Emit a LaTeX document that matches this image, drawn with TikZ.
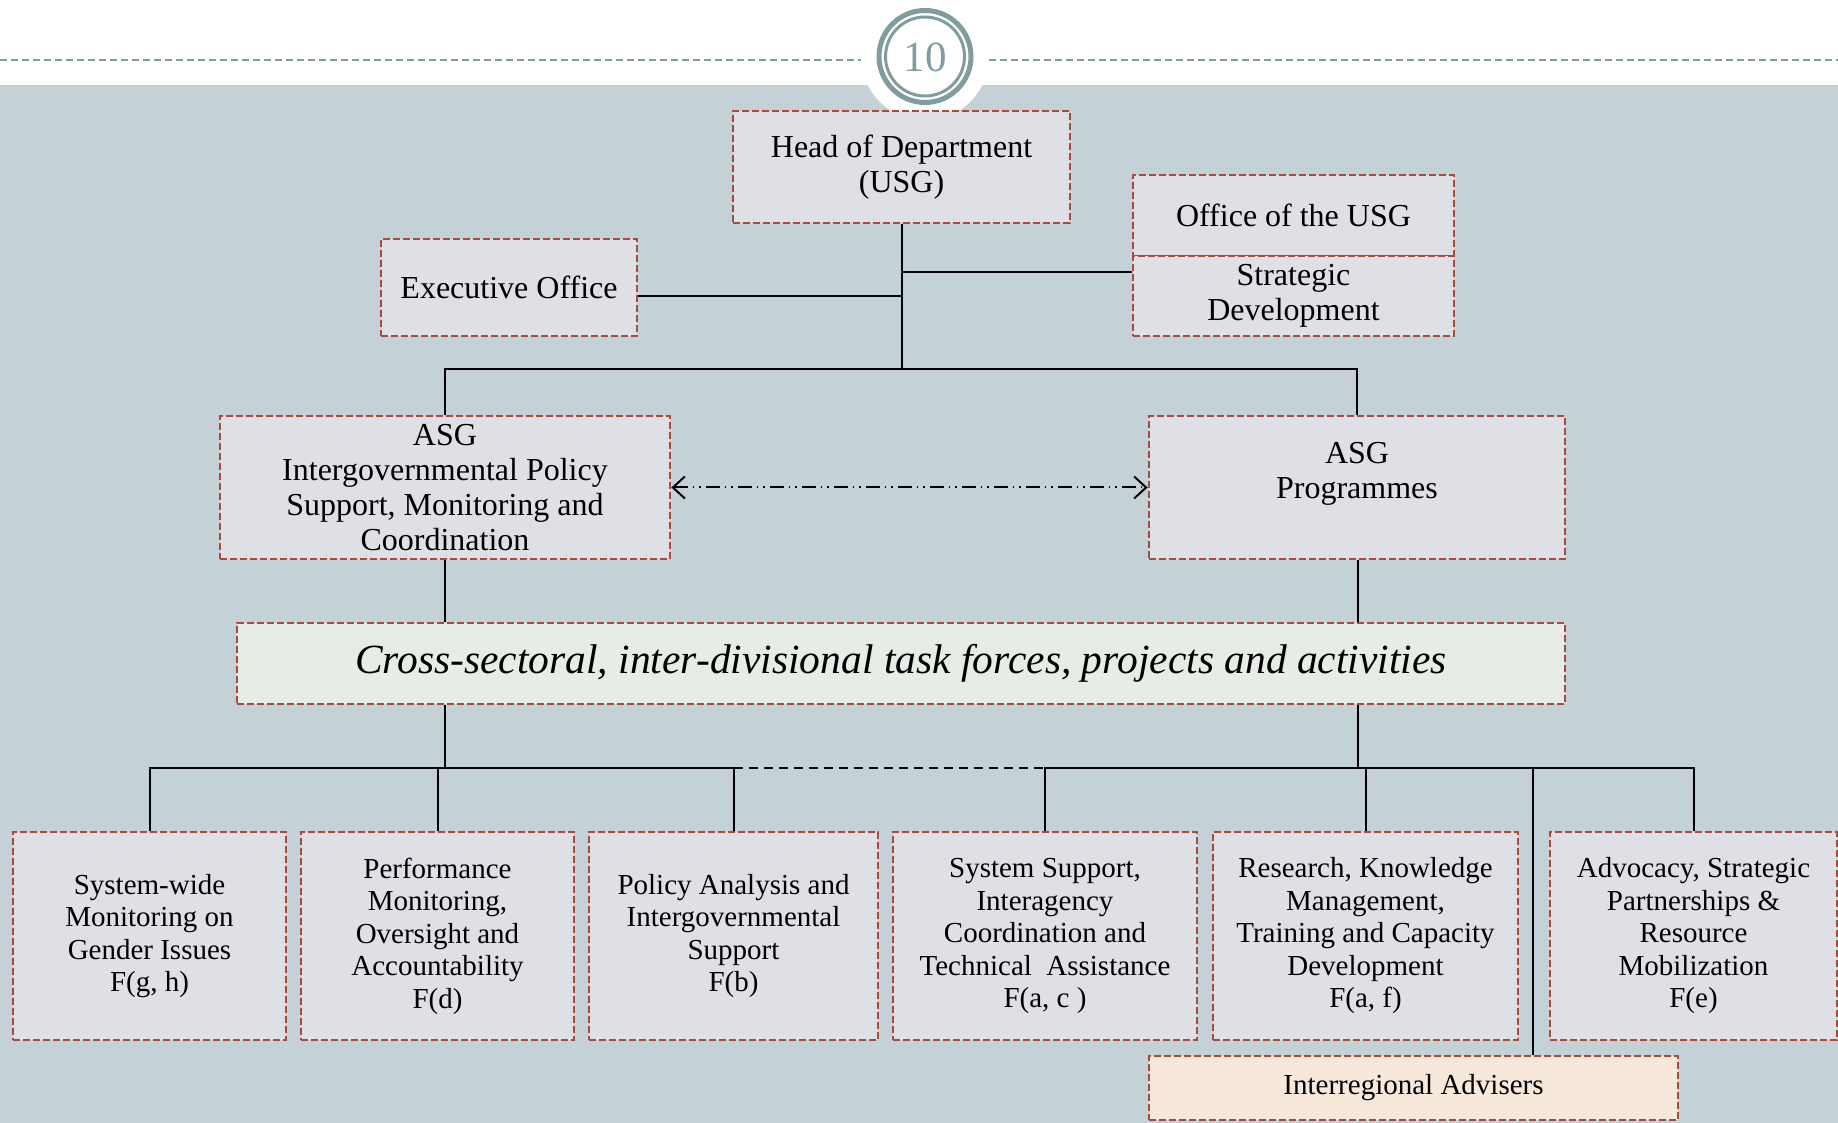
\documentclass[tikz,border=0pt]{standalone}
\usepackage{fontspec}
\setmainfont{Liberation Serif}
\usetikzlibrary{arrows.meta}

\definecolor{slide}{HTML}{C4D1D7}
\definecolor{boxgray}{HTML}{DFE0E5}
\definecolor{brick}{HTML}{A84A3C}
\definecolor{sage}{HTML}{E8ECE7}
\definecolor{peach}{HTML}{F6E8DA}
\definecolor{teal}{HTML}{7F9C9E}

\begin{document}
\begin{tikzpicture}[x=1pt, y=1pt,
    >={Straight Barb[length=12pt, width=22pt, line width=2pt]},
    unit/.style={draw=brick, line width=2.8pt, dash pattern=on 7pt off 3pt,
      fill=boxgray, align=center, inner sep=0pt,
      font=\fontsize{32}{35}\selectfont},
    section/.style={unit, minimum height=208pt, font=\fontsize{29}{32.5}\selectfont},
    wire/.style={black, line width=2pt},
    link/.style={black, line width=2pt, <->,
      dash pattern=on 14pt off 5pt on 1.5pt off 5pt on 1.5pt off 5pt}]

  % page
  \useasboundingbox (0,0) rectangle (1838,1123);
  \fill [white] (0,0) rectangle (1838,1123);
  \fill [slide] (0,0) rectangle (1838,1038);
  \draw [teal, line width=2.5pt, dash pattern=on 7pt off 4pt] (0,1063) -- (862,1063);
  \draw [teal, line width=2.5pt, dash pattern=on 7pt off 4pt] (989,1063) -- (1838,1063);
  \fill [white] (925,1066.5) circle (64);
  \draw [teal, line width=5pt] (925,1066.5) circle (46);
  \draw [teal, line width=3pt] (925,1066.5) circle (39.5);
  \node [teal, font=\fontsize{43}{43}\selectfont] (page) at (925,1066) {10};

  % top level
  \node [unit, minimum width=337pt, minimum height=112pt] (head) at (901.5,956)
    {Head of Department\\(USG)};
  \node [unit, minimum width=256pt, minimum height=97pt] (exec) at (509,835.5)
    {Executive Office};
  \node [unit, minimum width=321pt, minimum height=81pt] (office) at (1293.5,907.5)
    {Office of the USG};
  \node [unit, minimum width=321pt, minimum height=80pt] (strat) at (1293.5,827)
    {Strategic\\Development};

  % ASGs
  \node [unit, minimum width=450pt, minimum height=143pt] (asgL) at (445,635.5)
    {ASG\\Intergovernmental Policy\\Support, Monitoring and\\Coordination};
  \node [unit, minimum width=416pt, minimum height=143pt] (asgR) at (1357,635.5)
    {ASG\\Programmes\\\mbox{}};

  \node [unit, fill=sage, minimum width=1328pt, minimum height=81pt,
    font=\fontsize{41.5}{46}\selectfont\itshape] (cross) at (901,459.5)
    {Cross-sectoral, inter-divisional task forces, projects and activities};

  % divisions
  \node [section, minimum width=273pt] (b1) at (149.5,187)
    {System-wide\\Monitoring on\\Gender Issues\\F(g, h)};
  \node [section, minimum width=273pt] (b2) at (437.5,187)
    {Performance\\Monitoring,\\Oversight and\\Accountability\\F(d)};
  \node [section, minimum width=289pt] (b3) at (733.5,187)
    {Policy Analysis and\\Intergovernmental\\Support\\F(b)};
  \node [section, minimum width=304pt] (b4) at (1045,187)
    {System Support,\\Interagency\\Coordination and\\Technical~ Assistance\\F(a, c )};
  \node [section, minimum width=305pt] (b5) at (1365.5,187)
    {Research, Knowledge\\Management,\\Training and Capacity\\Development\\F(a, f)};
  \node [section, minimum width=287pt] (b6) at (1693.5,187)
    {Advocacy, Strategic\\Partnerships \&\\Resource\\Mobilization\\F(e)};

  \node [unit, fill=peach, minimum width=529pt, minimum height=64pt,
    font=\fontsize{29}{32}\selectfont] (inter) at (1413.5,35)
    {Interregional Advisers};

  % connectors
  \coordinate (topbus) at (901.5,754);
  \coordinate (lowL) at (445,355);
  \coordinate (lowR) at (1358,355);
  \coordinate (irtap) at (1533,355);

  \draw [wire] (head) -- (topbus);
  \draw [wire] (exec.east |- strat) -- (strat -| topbus);
  \draw [wire] ([yshift=24pt]strat.west) -- ([yshift=24pt]strat.west -| topbus);
  \draw [wire] (asgL) |- (topbus) -| (asgR);
  \draw [link] (asgL) -- (asgR);

  \draw [wire] (asgL) -- (asgL |- cross.north);
  \draw [wire] (asgR.south -| lowR) -- (cross.north -| lowR);
  \draw [wire] (cross.south -| lowL) -- (lowL);
  \draw [wire] (cross.south -| lowR) -- (lowR);

  \draw [wire] (b1) |- (b3 |- lowL) -- (b3);
  \draw [wire] (b2) -- (b2 |- lowL);
  \draw [wire, dash pattern=on 9pt off 6pt] (b3 |- lowL) -- (b4 |- lowL);
  \draw [wire] (b4) |- (b6 |- lowL) -- (b6);
  \draw [wire] (b5) -- (b5 |- lowL);
  \draw [wire] (irtap) -- (irtap |- inter.north);
\end{tikzpicture}
\end{document}
